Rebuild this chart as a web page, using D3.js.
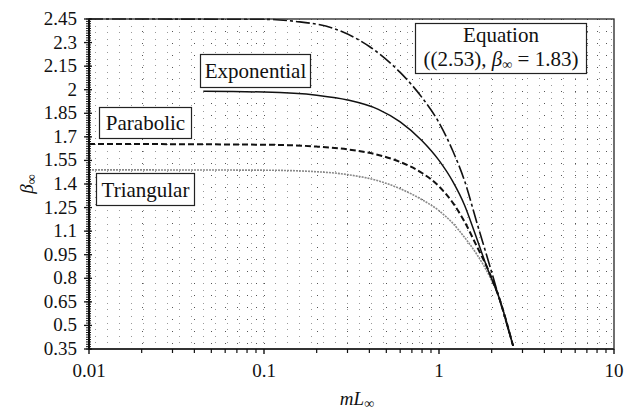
<!DOCTYPE html>
<html>
<head>
<meta charset="utf-8">
<script src="https://cdn.jsdelivr.net/npm/d3@7"></script>
<style>
  body { margin: 0; background: #fff; }
  text { font-family: "Liberation Serif", "Tinos", "Times New Roman", "DejaVu Serif", serif; }
  .tick-label { font-size: 19px; fill: #111; }
  .box-label { font-size: 21px; fill: #111; }
</style>
</head>
<body>
<svg id="chart" width="625" height="415"></svg>
<script>
// data: [mL, beta]
const equationPts = [[0.01, 2.45], [0.1, 2.448], [0.15, 2.435], [0.25, 2.39], [0.4, 2.275], [0.6, 2.11],
  [0.8, 1.95], [1.0, 1.79], [1.2, 1.61], [1.4, 1.42], [1.65, 1.15], [1.95, 0.88], [2.2, 0.68], [2.65, 0.37]];
const exponentialPts = [[0.045, 1.99], [0.1, 1.985], [0.2, 1.965], [0.3, 1.935], [0.45, 1.875], [0.6, 1.795],
  [0.8, 1.675], [1.0, 1.55], [1.2, 1.415], [1.4, 1.265], [1.6, 1.09], [1.88, 0.87], [2.2, 0.68], [2.65, 0.37]];
const parabolicPts = [[0.01, 1.655], [0.1, 1.65], [0.2, 1.638], [0.3, 1.62], [0.45, 1.585], [0.6, 1.54],
  [0.8, 1.47], [1.0, 1.385], [1.2, 1.28], [1.4, 1.16], [1.65, 1.0], [1.9, 0.86], [2.2, 0.68], [2.65, 0.37]];
const triangularPts = [[0.01, 1.49], [0.1, 1.488], [0.2, 1.478], [0.3, 1.46], [0.45, 1.42], [0.6, 1.37],
  [0.8, 1.30], [1.0, 1.23], [1.2, 1.15], [1.4, 1.06], [1.65, 0.95], [1.95, 0.81], [2.2, 0.68], [2.65, 0.37]];

const yTicks = [0.35, 0.5, 0.65, 0.8, 0.95, 1.1, 1.25, 1.4, 1.55, 1.7, 1.85, 2, 2.15, 2.3, 2.45];
const xTicks = [0.01, 0.1, 1, 10];
const xTickLabels = ["0.01", "0.1", "1", "10"];

const svg = d3.select("#chart");
const padL = 89, padR = 614, padT = 19, padB = 349;

const x = d3.scaleLog().domain([0.01, 10]).range([padL, padR]);
const y = d3.scaleLinear().domain([0.35, 2.45]).range([padB, padT]);

// ---- grid (dotted) ----
const grid = svg.append("g");
const hRows = d3.range(0, 51).map(i => 0.35 + i * 0.042);
grid.selectAll(".hg").data(hRows).enter().append("line")
  .attr("x1", padL + 6).attr("x2", padR)
  .attr("y1", d => Math.round(y(d)) + 0.5).attr("y2", d => Math.round(y(d)) + 0.5)
  .attr("stroke", "#999").attr("stroke-width", 1).attr("stroke-dasharray", "1,11");

const minorX = [];
[0.01, 0.1, 1].forEach(dec => { for (let k = 2; k <= 9; k++) minorX.push(dec * k); });
grid.selectAll(".vg").data(minorX.concat([0.1, 1])).enter().append("line")
  .attr("x1", d => Math.round(x(d)) + 0.5).attr("x2", d => Math.round(x(d)) + 0.5)
  .attr("y1", padT).attr("y2", padB)
  .attr("stroke", "#555").attr("stroke-width", 1).attr("stroke-dasharray", "1,11");

// ---- curves ----
const line = d3.line().x(d => x(d[0])).y(d => y(d[1])).curve(d3.curveMonotoneX);

svg.append("path").datum(triangularPts).attr("d", line)
  .attr("fill", "none").attr("stroke", "#8a8a8a").attr("stroke-width", 1.6).attr("stroke-dasharray", "2,1");
svg.append("path").datum(parabolicPts).attr("d", line)
  .attr("fill", "none").attr("stroke", "#111").attr("stroke-width", 2).attr("stroke-dasharray", "6,3");
svg.append("path").datum(exponentialPts).attr("d", line)
  .attr("fill", "none").attr("stroke", "#111").attr("stroke-width", 1.5);
svg.append("path").datum(equationPts).attr("d", line)
  .attr("fill", "none").attr("stroke", "#111").attr("stroke-width", 1.6).attr("stroke-dasharray", "14,3,3,3");

// ---- frame & axes ----
svg.append("rect").attr("x", padL).attr("y", padT).attr("width", padR - padL).attr("height", padB - padT)
  .attr("fill", "none").attr("stroke", "#222").attr("stroke-width", 1.3);
svg.append("line").attr("x1", padL).attr("x2", padR).attr("y1", padB).attr("y2", padB)
  .attr("stroke", "#333").attr("stroke-width", 2);
svg.append("line").attr("x1", padL).attr("x2", padL).attr("y1", padT).attr("y2", padB)
  .attr("stroke", "#111").attr("stroke-width", 2);

// y ticks
const yMinor = d3.range(0, 141).map(i => 0.35 + i * 0.015);
svg.selectAll(".ymin").data(yMinor).enter().append("line")
  .attr("x1", padL - 3).attr("x2", padL + 2)
  .attr("y1", d => y(d)).attr("y2", d => y(d))
  .attr("stroke", "#111").attr("stroke-width", 1);
svg.selectAll(".ymaj").data(yTicks).enter().append("line")
  .attr("x1", padL - 5).attr("x2", padL + 3)
  .attr("y1", d => y(d)).attr("y2", d => y(d))
  .attr("stroke", "#111").attr("stroke-width", 1.3);
svg.selectAll(".ylab").data(yTicks).enter().append("text")
  .attr("class", "tick-label")
  .attr("x", padL - 12).attr("y", d => y(d) + 6)
  .attr("text-anchor", "end")
  .text(d => String(+d.toFixed(2)));

// x ticks
svg.selectAll(".xmin").data(minorX).enter().append("line")
  .attr("x1", d => x(d)).attr("x2", d => x(d))
  .attr("y1", padB).attr("y2", padB + 4)
  .attr("stroke", "#111").attr("stroke-width", 1.2);
svg.selectAll(".xmaj").data(xTicks).enter().append("line")
  .attr("x1", d => x(d)).attr("x2", d => x(d))
  .attr("y1", padB).attr("y2", padB + 5)
  .attr("stroke", "#111").attr("stroke-width", 1.4);
svg.selectAll(".xlab").data(xTicks).enter().append("text")
  .attr("class", "tick-label")
  .attr("x", d => x(d)).attr("y", 377)
  .attr("text-anchor", "middle")
  .text((d, i) => xTickLabels[i]);

// axis titles
const xt = svg.append("text").attr("class", "tick-label").attr("font-size", 20)
  .attr("x", 357).attr("y", 405).attr("text-anchor", "middle");
xt.append("tspan").attr("font-style", "italic").text("mL");
xt.append("tspan").attr("font-size", 14).attr("dy", 3).text("∞");

const yt = svg.append("text").attr("class", "tick-label").attr("font-size", 20)
  .attr("transform", "translate(33,184) rotate(-90)").attr("text-anchor", "middle");
yt.append("tspan").attr("font-style", "italic").text("β");
yt.append("tspan").attr("font-size", 14).attr("dy", 3).text("∞");

// ---- label boxes ----
function labelBox(bx, by, bw, bh, txt) {
  svg.append("rect").attr("x", bx).attr("y", by).attr("width", bw).attr("height", bh)
    .attr("fill", "#fff").attr("stroke", "#222").attr("stroke-width", 1.2);
  svg.append("text").attr("class", "box-label")
    .attr("x", bx + bw / 2).attr("y", by + bh / 2 + 7).attr("text-anchor", "middle").text(txt);
}
labelBox(200.5, 54.5, 110, 33, "Exponential");
labelBox(99.5, 107.5, 92, 31, "Parabolic");
labelBox(96.5, 173.5, 98, 32, "Triangular");

svg.append("rect").attr("x", 415.5).attr("y", 23.5).attr("width", 171).attr("height", 50)
  .attr("fill", "#fff").attr("stroke", "#222").attr("stroke-width", 1.2);
svg.append("text").attr("class", "box-label").attr("x", 501).attr("y", 42).attr("text-anchor", "middle").text("Equation");
const eq = svg.append("text").attr("class", "box-label").attr("x", 501).attr("y", 66).attr("text-anchor", "middle");
eq.append("tspan").text("((2.53), ");
eq.append("tspan").attr("font-style", "italic").text("β");
eq.append("tspan").attr("font-size", 14).attr("dy", 3).text("∞");
eq.append("tspan").attr("dy", -3).text(" = 1.83)");
</script>
</body>
</html>
